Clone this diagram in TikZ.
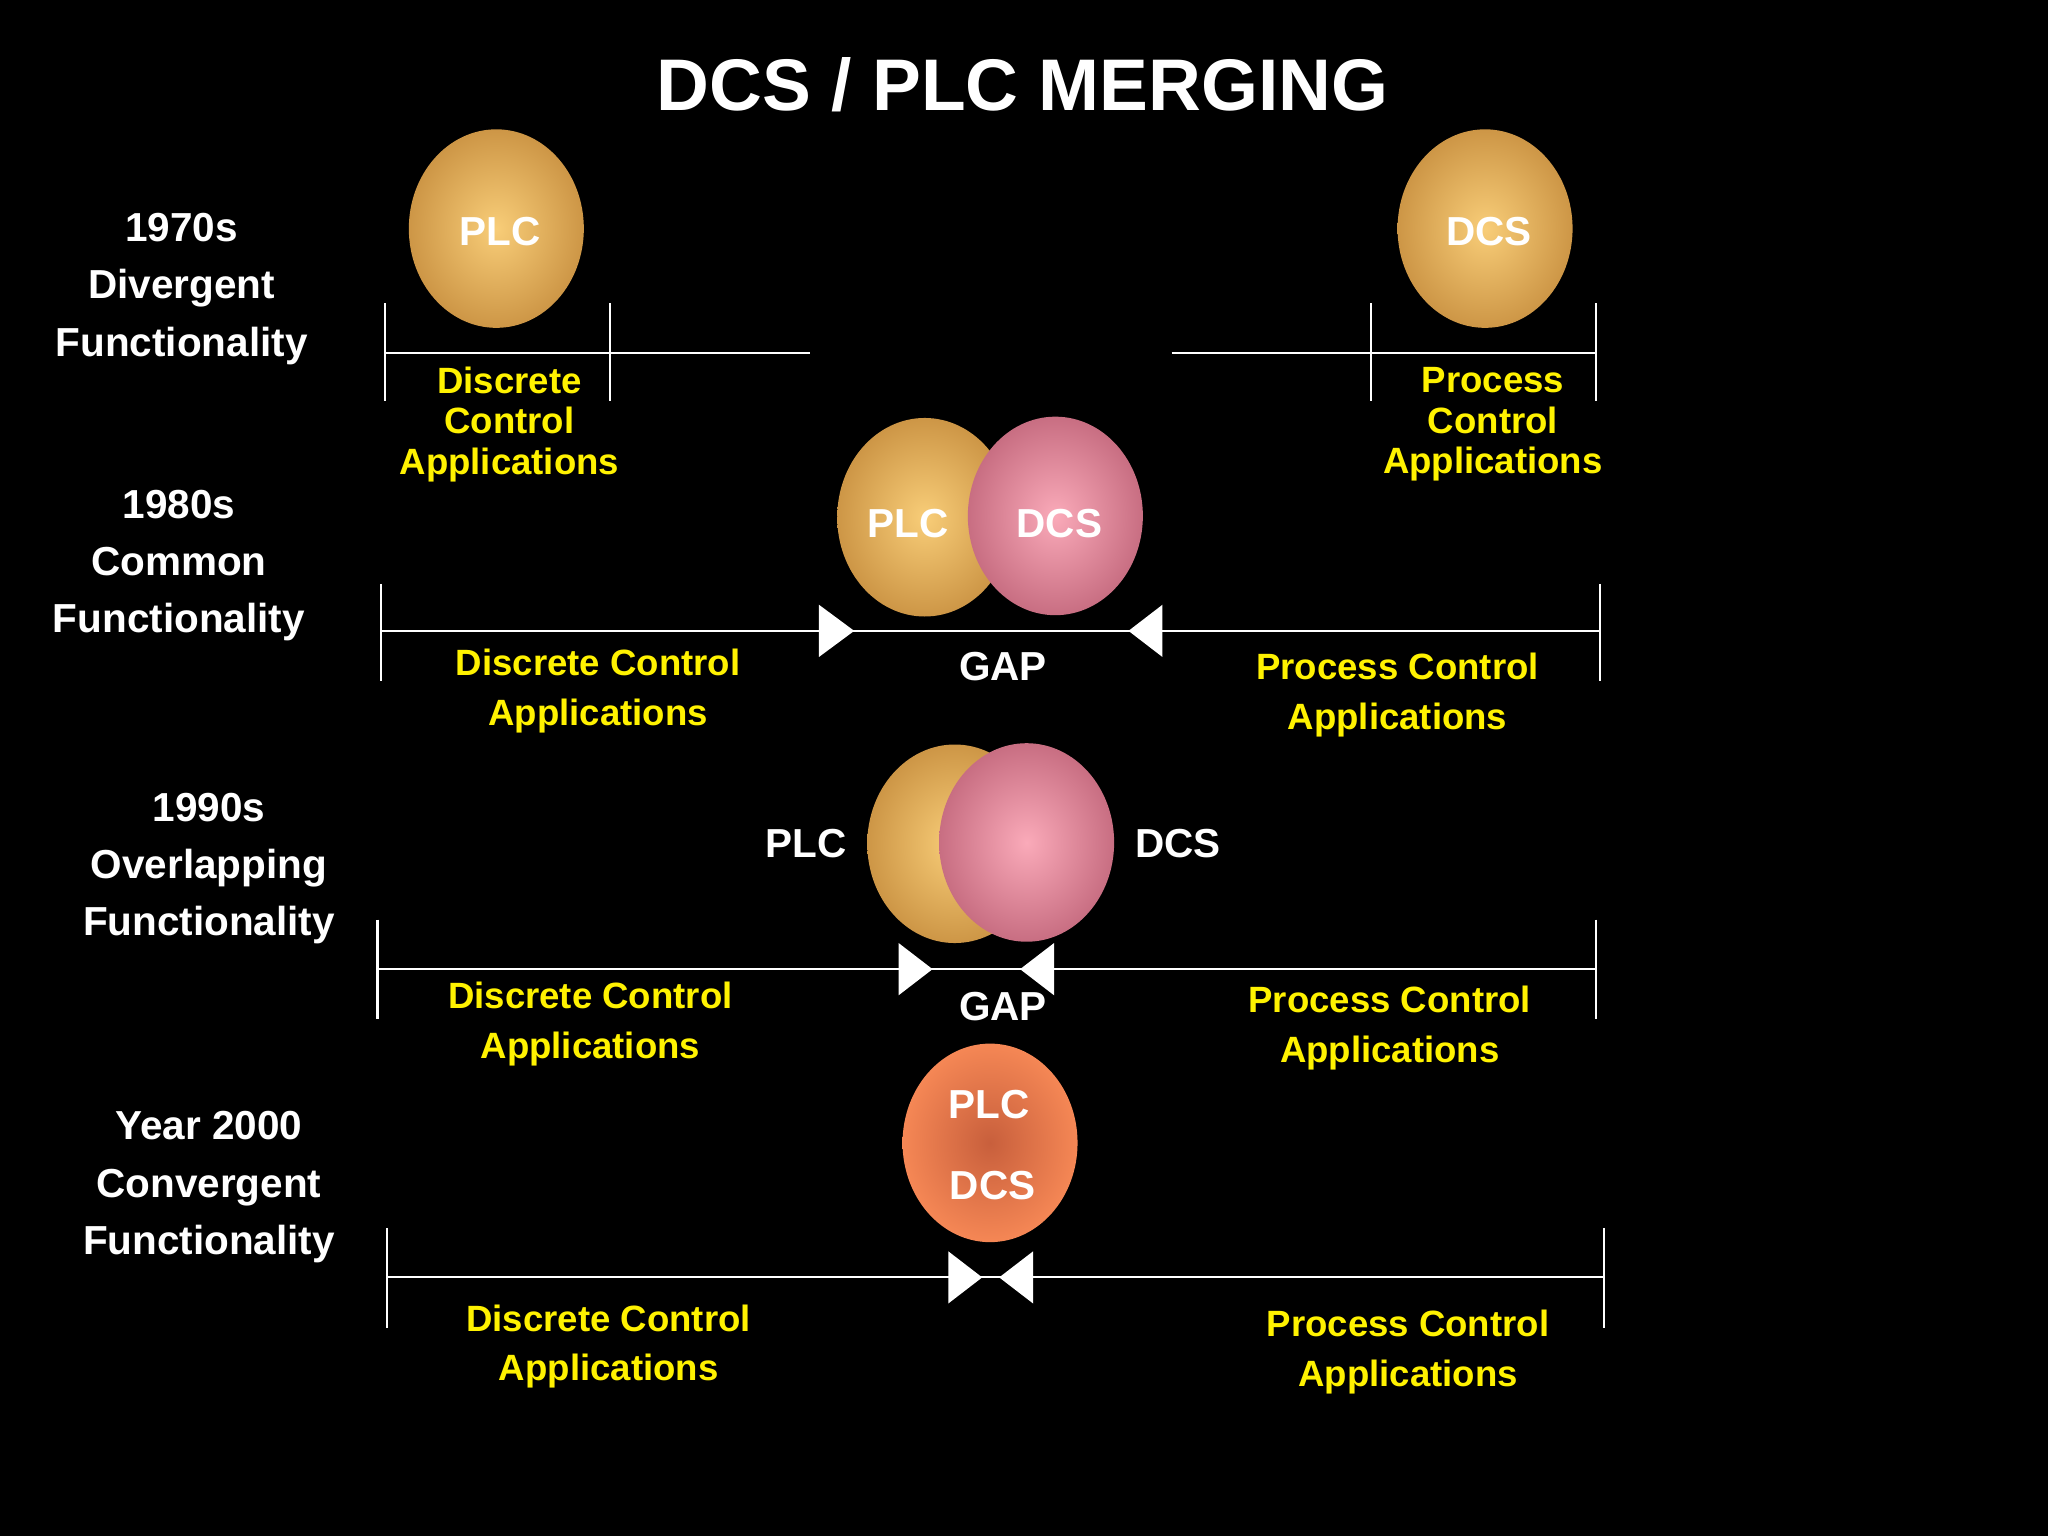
\documentclass[tikz,border=0pt]{standalone}
\usepackage{fontspec}
\setmainfont{Liberation Sans}
\begin{document}
\begin{tikzpicture}[x=1pt,y=-1pt,
  lab/.style={text=white,font=\bfseries\fontsize{31}{44}\selectfont,align=center},
  yel/.style={text=yellow,font=\bfseries\fontsize{28}{38}\selectfont,align=center},
  wt/.style={text=white,font=\bfseries\fontsize{31}{36}\selectfont},
  ln/.style={white,line width=1.6pt},
  plc/.style={shading=radial,inner color={rgb,255:red,248;green,205;blue,120},outer color={rgb,255:red,205;green,150;blue,70}},
  dcs/.style={shading=radial,inner color={rgb,255:red,250;green,170;blue,185},outer color={rgb,255:red,200;green,110;blue,130}},
  cnv/.style={shading=radial,inner color={rgb,255:red,200;green,95;blue,60},outer color={rgb,255:red,245;green,135;blue,85}},
  tri/.style={fill=white}]
\fill[black] (0,0) rectangle (1568,1176);
\useasboundingbox (0,0) rectangle (1568,1176);
\node[text=white,font=\bfseries\fontsize{56}{60}\selectfont] (title) at (783,65) {DCS / PLC MERGING};
% Row 1
\node[lab] (l1) at (139,221) {1970s\\Divergent\\Functionality};
\path[plc] (380,175) ellipse [x radius=67,y radius=76];
\node[wt] (p1) at (383,177) {PLC};
\path[plc] (1137,175) ellipse [x radius=67,y radius=76];
\node[wt] (d1) at (1140,177) {DCS};
\coordinate (a1) at (295,270); \coordinate (b1) at (620,270);
\coordinate (c1) at (897,270); \coordinate (e1) at (1222,270);
\draw[ln] (a1)--(b1); \draw[ln] (c1)--(e1);
\draw[ln] (295,232)--(295,307); \draw[ln] (467,232)--(467,307);
\draw[ln] (1050,232)--(1050,307); \draw[ln] (1222,232)--(1222,307);
\node[yel] (y1) at (390,325) {Discrete\\[-7pt]Control\\[-7pt]Applications};
\node[yel] (z1) at (1143,325) {Process\\[-7pt]Control\\[-7pt]Applications};
% Row 2
\node[lab] (l2) at (137,433) {1980s\\Common\\Functionality};
\path[plc] (708,396) ellipse [x radius=67,y radius=76];
\path[dcs] (808,395) ellipse [x radius=67,y radius=76];
\node[wt] (p2) at (695,401) {PLC};
\node[wt] (d2) at (811,401) {DCS};
\coordinate (a2) at (292,483); \coordinate (e2) at (1225,483);
\draw[ln] (a2)--(e2);
\draw[ln] (292,447)--(292,521); \draw[ln] (1225,447)--(1225,521);
\fill[tri] (627,463)--(654,483)--(627,503)--cycle;
\fill[tri] (890,463)--(864,483)--(890,503)--cycle;
\node[wt] (g2) at (768,510) {GAP};
\node[yel] (y2) at (458,529) {Discrete Control\\Applications};
\node[yel] (z2) at (1070,532) {Process Control\\Applications};
% Row 3
\node[lab] (l3) at (160,665) {1990s\\Overlapping\\Functionality};
\path[plc] (731,646) ellipse [x radius=67,y radius=76];
\path[dcs] (786,645) ellipse [x radius=67,y radius=76];
\node[wt] (p3) at (617,646) {PLC};
\node[wt] (d3) at (902,646) {DCS};
\coordinate (a3) at (289,742); \coordinate (e3) at (1222,742);
\draw[ln] (a3)--(e3);
\draw[ln] (289,704)--(289,780); \draw[ln] (1222,704)--(1222,780);
\fill[tri] (688,722)--(714,742)--(688,762)--cycle;
\fill[tri] (807,722)--(781,742)--(807,762)--cycle;
\node[wt] (g3) at (768,771) {GAP};
\node[yel] (y3) at (452,784) {Discrete Control\\Applications};
\node[yel] (z3) at (1064,787) {Process Control\\Applications};
% Row 4
\node[lab] (l4) at (160,909) {Year 2000\\Convergent\\Functionality};
\path[cnv] (758,875) ellipse [x radius=67,y radius=76];
\node[wt] (p4) at (757,846) {PLC};
\node[wt] (d4) at (760,908) {DCS};
\coordinate (a4) at (296,978); \coordinate (e4) at (1228,978);
\draw[ln] (a4)--(e4);
\draw[ln] (296,940)--(296,1017); \draw[ln] (1228,940)--(1228,1017);
\fill[tri] (726,958)--(752,978)--(726,998)--cycle;
\fill[tri] (791,958)--(765,978)--(791,998)--cycle;
\node[yel] (y4) at (466,1031) {Discrete Control\\Applications};
\node[yel] (z4) at (1078,1035) {Process Control\\Applications};
\end{tikzpicture}
\end{document}
